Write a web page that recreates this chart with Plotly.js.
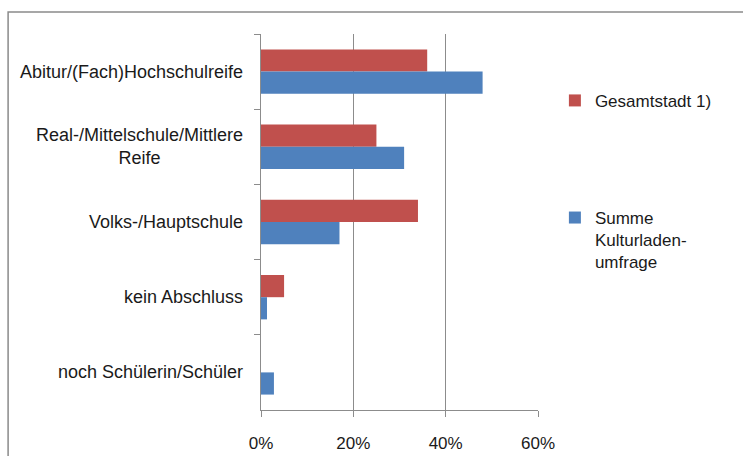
<!DOCTYPE html>
<html>
<head>
<meta charset="utf-8">
<script src="https://cdn.plot.ly/plotly-3.0.1.min.js"></script>
<style>html,body{margin:0;padding:0;background:#fff;}#chart{width:743px;height:456px;}</style>
</head>
<body>
<div id="chart"></div>
<script>
// Data
const categories = [
  "Abitur/(Fach)Hochschulreife",
  "Real-/Mittelschule/Mittlere<br>Reife",
  "Volks-/Hauptschule",
  "kein Abschluss",
  "noch Schülerin/Schüler"
];
const seriesNames = ["Gesamtstadt 1)", "Summe<br>Kulturladen-<br>umfrage"];
const gesamtstadt = [0.36, 0.25, 0.34, 0.05, 0.0];
const kulturladen = [0.48, 0.31, 0.17, 0.013, 0.028];
const xTickVals = [0, 0.2, 0.4, 0.6];

const FONT = "Liberation Sans, Arial, sans-serif";

const traces = [
  {type: "bar", orientation: "h", name: seriesNames[0], y: categories, x: gesamtstadt,
   marker: {color: "#C0504D"}, legendgroup: "a", hoverinfo: "skip"},
  {type: "bar", orientation: "h", name: seriesNames[1], y: categories, x: kulturladen,
   marker: {color: "#4F81BD"}, legendgroup: "b", hoverinfo: "skip"}
];

const annotations = categories.map(c => ({
  text: c, xref: "paper", x: -0.058, xanchor: "right", yref: "y", y: c,
  yanchor: "middle", align: "center", showarrow: false,
  font: {family: FONT, size: 18, color: "#1a1a1a"}
}));

const layout = {
  width: 743, height: 456,
  margin: {l: 261, r: 205, t: 34, b: 46},
  paper_bgcolor: "#fff", plot_bgcolor: "#fff",
  barmode: "group", bargap: 0.41, bargroupgap: 0,
  showlegend: true,
  legend: {
    x: 1.061, xanchor: "left", y: 0.87, yanchor: "top",
    traceorder: "grouped", tracegroupgap: 92, valign: "top",
    font: {family: FONT, size: 17, color: "#1a1a1a"}, bgcolor: "rgba(0,0,0,0)"
  },
  xaxis: {
    range: [0, 0.6], tickvals: xTickVals, tickformat: ".0%",
    showgrid: true, gridcolor: "#8c8c8c", gridwidth: 1,
    zeroline: false, showline: true, linecolor: "#8c8c8c", linewidth: 1,
    ticks: "outside", ticklen: 6, tickcolor: "#8c8c8c",
    ticklabelstandoff: 12,
    tickfont: {family: FONT, size: 17, color: "#1a1a1a"}, fixedrange: true
  },
  yaxis: {
    type: "category", autorange: "reversed", categoryorder: "array", categoryarray: categories,
    showticklabels: false, showgrid: false, zeroline: false,
    showline: true, linecolor: "#8c8c8c", linewidth: 1,
    ticks: "outside", tickson: "boundaries", ticklen: 6, tickcolor: "#8c8c8c",
    fixedrange: true
  },
  annotations: annotations,
  shapes: [{
    type: "rect", xref: "paper", yref: "paper",
    x0: -0.913, x1: 1.75, y0: -0.14, y1: 1.0585,
    line: {color: "#8a8a8a", width: 1.5}, fillcolor: "rgba(0,0,0,0)", layer: "below"
  }]
};

Plotly.newPlot("chart", traces, layout, {displayModeBar: false, staticPlot: true});
</script>
</body>
</html>
